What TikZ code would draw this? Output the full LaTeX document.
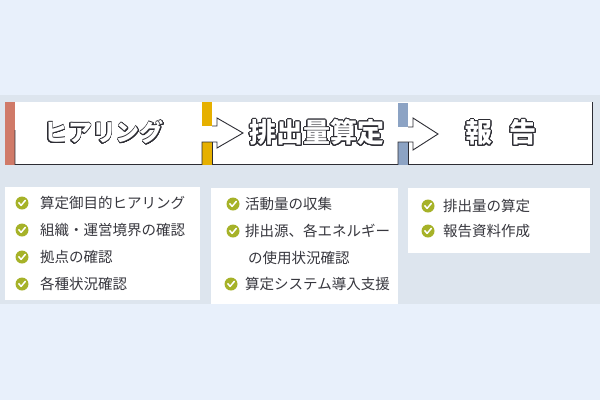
\documentclass[tikz,border=0pt]{standalone}
\usepackage{fontspec}
\setmainfont{Noto Sans CJK JP}
\usepackage{contour}
\contourlength{0.9pt}
\contournumber{24}
\definecolor{outerbg}{RGB}{232,240,251}
\definecolor{band}{RGB}{221,229,238}
\definecolor{redbar}{RGB}{208,122,104}
\definecolor{yelbar}{RGB}{230,176,0}
\definecolor{bluebar}{RGB}{140,163,196}
\definecolor{chk}{RGB}{166,178,40}
\definecolor{txt}{RGB}{55,55,62}
\definecolor{edge}{RGB}{45,45,52}
\tikzset{
  chkicon/.style={circle, fill=chk, minimum size=13pt, inner sep=0pt,
    path picture={\draw[white,line width=1.5pt,line cap=round,line join=round]
      ([shift={(-3.2pt,0.3pt)}]path picture bounding box.center) --
      ([shift={(-0.9pt,-2.4pt)}]path picture bounding box.center) --
      ([shift={(3.3pt,2.6pt)}]path picture bounding box.center);}},
  item/.style={anchor=west, inner sep=0pt, text=txt, font=\fontsize{14.5}{17}\selectfont},
  head/.style={inner sep=0pt, text=white},
  edgeline/.style={draw=edge, line width=0.9pt, line join=miter}
}
\begin{document}
\begin{tikzpicture}[x=1pt,y=-1pt]
\fill[outerbg] (0,0) rectangle (600,400);
\useasboundingbox (0,0) rectangle (600,400);
\fill[band] (0,95) rectangle (600,304);
% header strip
\fill[white] (15,102) rectangle (592,165);
\fill[redbar] (5,102) rectangle (15,164.5);
\fill[yelbar] (202,102) rectangle (212,126);
\fill[yelbar] (202,142) rectangle (212,165);
\fill[bluebar] (398,103) rectangle (408,127);
\fill[bluebar] (398,142) rectangle (408,165);
\draw[edgeline] (15,130) -- (15,164.5) -- (202,164.5) -- (202,142) -- (217,142) -- (217,148) -- (243,133) -- (217,118) -- (217,126) -- (212,126);
\draw[edgeline] (212,142) -- (212,164.5);
\draw[edgeline] (212,164.5) -- (398,164.5) -- (398,142) -- (413,142) -- (413,150) -- (438,134) -- (413,118) -- (413,127) -- (408,127);
\draw[edgeline] (408,142) -- (408,164.5);
\draw[edgeline] (408,164.5) -- (592,164.5) -- (592,102);
% headings
\node[head, font=\fontsize{24}{28}\bfseries\selectfont] (h1) at (104,133) {\contour{edge}{ヒアリング}};
\node[head, font=\fontsize{27}{30}\bfseries\selectfont] (h2) at (317,133) {\contour{edge}{排出量算定}};
\node[head, font=\fontsize{27}{30}\bfseries\selectfont] (h3) at (501,133) {\contour{edge}{報}\hspace{17pt}\contour{edge}{告}};
% item panels
\fill[white] (5,187) rectangle (200,300);
\fill[white] (211,188) rectangle (398,304);
\fill[white] (408,188) rectangle (590,253);
% panel 1
\node[chkicon] (c11) at (22,203) {};
\node[item] (t11) at (40,203) {算定御目的ヒアリング};
\node[chkicon] (c12) at (22,230) {};
\node[item] (t12) at (40,230) {組織・運営境界の確認};
\node[chkicon] (c13) at (22,257) {};
\node[item] (t13) at (40,257) {拠点の確認};
\node[chkicon] (c14) at (22,284) {};
\node[item] (t14) at (40,284) {各種状況確認};
% panel 2
\node[chkicon] (c21) at (233,204) {};
\node[item] (t21) at (245,204) {活動量の収集};
\node[chkicon] (c22) at (233,231) {};
\node[item] (t22) at (245,231) {排出源、各エネルギー};
\node[item] (t23) at (248,258) {の使用状況確認};
\node[chkicon] (c24) at (231,284) {};
\node[item] (t24) at (245,284) {算定システム導入支援};
% panel 3
\node[chkicon] (c31) at (428,206) {};
\node[item] (t31) at (443,206) {排出量の算定};
\node[chkicon] (c32) at (428,231) {};
\node[item] (t32) at (443,231) {報告資料作成};
\end{tikzpicture}
\end{document}
